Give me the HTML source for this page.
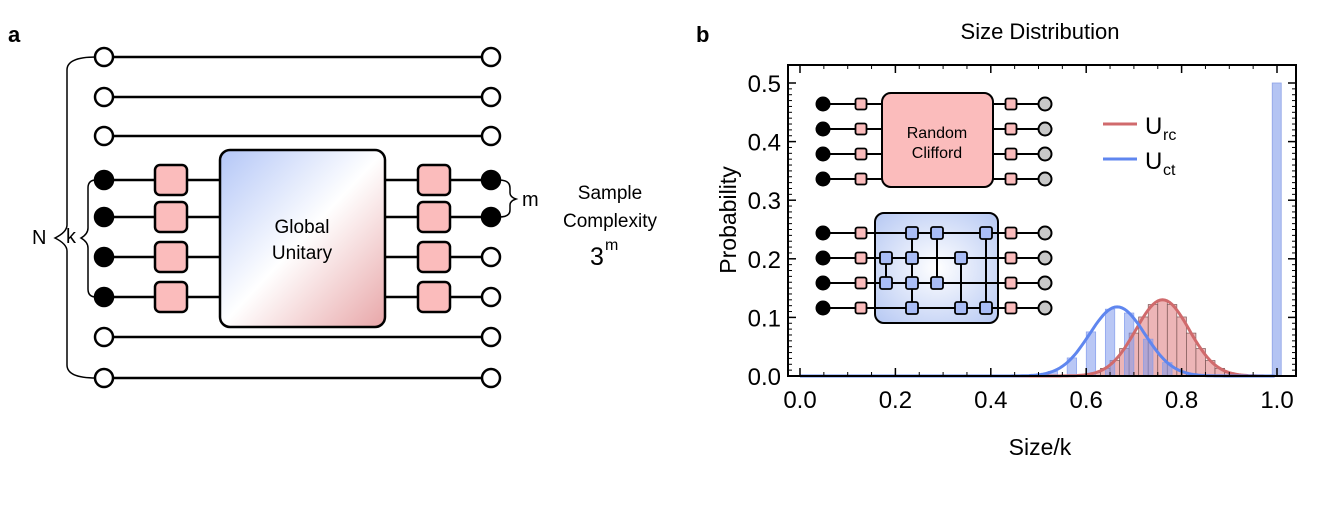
<!DOCTYPE html>
<html><head><meta charset="utf-8"><style>
html,body{margin:0;padding:0;background:#fff}
svg{display:block;font-family:"Liberation Sans",sans-serif}
</style></head><body>
<svg id="s" width="1329" height="505" viewBox="0 0 1329 505" xmlns="http://www.w3.org/2000/svg">
<defs>
<linearGradient id="gu" x1="0" y1="0" x2="1" y2="1">
<stop offset="0" stop-color="#b3c6f7"/><stop offset="0.5" stop-color="#ffffff"/><stop offset="1" stop-color="#e8a6a8"/>
</linearGradient>
<radialGradient id="gb" cx="0.5" cy="0.5" r="0.7">
<stop offset="0" stop-color="#ffffff"/><stop offset="1" stop-color="#b6c8f3"/>
</radialGradient>
</defs>
<text x="8" y="42" font-size="22" font-weight="bold">a</text>
<text x="696" y="42" font-size="22" font-weight="bold">b</text>
<g id="pa" stroke="#000" stroke-width="2.5"></g>
<g font-size="19" fill="#000">
<text x="32" y="244" font-size="20">N</text>
<text x="66" y="243" font-size="20">k</text>
<text x="522" y="206" font-size="20">m</text>
<text x="610" y="199" text-anchor="middle">Sample</text>
<text x="610" y="227" text-anchor="middle">Complexity</text>
<text x="597" y="265" font-size="25" text-anchor="middle">3</text>
<text x="605" y="250" font-size="16">m</text>
<text x="302" y="233" text-anchor="middle">Global</text>
<text x="302" y="259" text-anchor="middle">Unitary</text>
</g>
<text x="1040" y="39" font-size="22" text-anchor="middle">Size Distribution</text>
<text x="1040" y="455" font-size="23" text-anchor="middle">Size/k</text>
<text transform="translate(736,220) rotate(-90)" font-size="23" text-anchor="middle">Probability</text>
<g id="pb"></g>
</svg>
<script>
const NS="http://www.w3.org/2000/svg";
function el(p,t,a,txt){const e=document.createElementNS(NS,t);for(const k in a)e.setAttribute(k,a[k]);if(txt!==undefined)e.textContent=txt;p.appendChild(e);return e;}
const pa=document.getElementById('pa');
const rows=[57,97,136,180,217,257,297,337,378];
rows.forEach((y,i)=>{
 if(i>=3&&i<=6){el(pa,'line',{x1:104,y1:y,x2:220,y2:y});el(pa,'line',{x1:385,y1:y,x2:491,y2:y});}
 else el(pa,'line',{x1:104,y1:y,x2:491,y2:y});
});
el(pa,'path',{d:"M96 57 Q67 57 67 70 L67 225 Q67 232 55 238 Q67 244 67 251 L67 365 Q67 378 96 378",fill:"none","stroke-width":1.5});
el(pa,'path',{d:"M96 180 Q88 180 88 188 L88 228 Q88 234 81 238 Q88 242 88 248 L88 289 Q88 297 96 297",fill:"none","stroke-width":1.5});
el(pa,'path',{d:"M499 180 Q510 180 510 188 L510 193 Q510 197 516 199 Q510 201 510 205 L510 210 Q510 217 499 217",fill:"none","stroke-width":1.5});
el(pa,'rect',{x:220,y:150,width:165,height:177,rx:10,fill:"url(#gu)"});
rows.forEach((y,i)=>{
 const g=i>=3&&i<=6;
 el(pa,'circle',{cx:104,cy:y,r:9,fill:g?"#000":"#fff"});
 el(pa,'circle',{cx:491,cy:y,r:9,fill:(i==3||i==4)?"#000":"#fff"});
 if(g){el(pa,'rect',{x:155,y:y-15,width:32,height:30,rx:5,fill:"#fbbcbc"});el(pa,'rect',{x:418,y:y-15,width:32,height:30,rx:5,fill:"#fbbcbc"});}
});
const pb=document.getElementById('pb');
const X=v=>800+v*477, Y=v=>376-v*586;
function gau(x,m,h,s){return h*Math.exp(-(x-m)*(x-m)/(2*s*s));}
for(let c=0.56;c<0.95;c+=0.02){const h=gau(c,0.76,0.13,0.056);if(h<0.002)continue;el(pb,'rect',{x:X(c-0.01),y:Y(h),width:477*0.02,height:376-Y(h),fill:"#e9a3a5","fill-opacity":0.8,stroke:"#7a5555","stroke-width":0.7});}
for(let c=0.53;c<0.80;c+=0.04){const h=gau(c,0.665,0.118,0.058);if(h<0.002)continue;el(pb,'rect',{x:X(c-0.01),y:Y(h),width:477*0.02,height:376-Y(h),fill:"#7f99ec","fill-opacity":0.55,stroke:"#7f99ec","stroke-width":0.6});}
el(pb,'rect',{x:X(0.99),y:Y(0.5),width:9,height:376-Y(0.5),fill:"#b4c4f3",stroke:"#8ea3e6","stroke-width":0.8});
let dr="",db="";
for(let x=0;x<=1.0;x+=0.005){dr+=(x?"L":"M")+X(x).toFixed(1)+" "+Y(gau(x,0.76,0.13,0.056)).toFixed(1);db+=(x?"L":"M")+X(x).toFixed(1)+" "+Y(gau(x,0.665,0.118,0.058)).toFixed(1);}
el(pb,'path',{d:dr,fill:"none",stroke:"#d06a6c","stroke-width":3});
el(pb,'path',{d:db,fill:"none",stroke:"#5f86ef","stroke-width":3});
el(pb,'rect',{x:788,y:65,width:508,height:311,fill:"none",stroke:"#000","stroke-width":2});
for(let i=0;i<=5;i++){const v=i/10;el(pb,'text',{x:781,y:Y(v)+9,"font-size":24,"text-anchor":"end"},v.toFixed(1));el(pb,'line',{x1:788,y1:Y(v),x2:796,y2:Y(v),stroke:"#000","stroke-width":1.5});el(pb,'line',{x1:1296,y1:Y(v),x2:1288,y2:Y(v),stroke:"#000","stroke-width":1.5});}
for(let i=0;i<50;i++){const v=i/100;el(pb,'line',{x1:788,y1:Y(v),x2:792,y2:Y(v),stroke:"#000","stroke-width":1});el(pb,'line',{x1:1296,y1:Y(v),x2:1292,y2:Y(v),stroke:"#000","stroke-width":1});}
for(let i=0;i<=5;i++){const v=i/5;el(pb,'text',{x:X(v),y:408,"font-size":24,"text-anchor":"middle"},v.toFixed(1));el(pb,'line',{x1:X(v),y1:376,x2:X(v),y2:368,stroke:"#000","stroke-width":1.5});el(pb,'line',{x1:X(v),y1:65,x2:X(v),y2:73,stroke:"#000","stroke-width":1.5});}
for(let i=0;i<=20;i++){const v=i/20;el(pb,'line',{x1:X(v),y1:376,x2:X(v),y2:372,stroke:"#000","stroke-width":1});el(pb,'line',{x1:X(v),y1:65,x2:X(v),y2:69,stroke:"#000","stroke-width":1});}
el(pb,'line',{x1:1103,y1:124,x2:1137,y2:124,stroke:"#d06a6c","stroke-width":3});
el(pb,'line',{x1:1103,y1:159,x2:1137,y2:159,stroke:"#5f86ef","stroke-width":3});
el(pb,'text',{x:1145,y:134,"font-size":24},"U");el(pb,'text',{x:1163,y:140,"font-size":16},"rc");
el(pb,'text',{x:1145,y:169,"font-size":24},"U");el(pb,'text',{x:1163,y:175,"font-size":16},"ct");
const g=el(pb,'g',{stroke:"#000","stroke-width":2});
function sq(x,y,f,s){el(g,'rect',{x:x-s/2,y:y-s/2,width:s,height:s,rx:2,fill:f,"stroke-width":1.8});}
const r1=[104,129,154,179];
r1.forEach(y=>{el(g,'line',{x1:823,y1:y,x2:1045,y2:y});});
el(g,'rect',{x:882,y:93,width:111,height:94,rx:9,fill:"#fbbcbc"});
r1.forEach(y=>{el(g,'circle',{cx:823,cy:y,r:6.5,fill:"#000"});sq(861,y,"#fbbcbc",11);sq(1011,y,"#fbbcbc",11);el(g,'circle',{cx:1045,cy:y,r:6.5,fill:"#c8c8c8"});});
el(pb,'text',{x:937,y:138,"font-size":16,"text-anchor":"middle"},"Random");
el(pb,'text',{x:937,y:158,"font-size":16,"text-anchor":"middle"},"Clifford");
const r2=[233,258,283,308];
r2.forEach(y=>{el(g,'line',{x1:823,y1:y,x2:1045,y2:y});});
el(g,'rect',{x:875,y:213,width:123,height:110,rx:9,fill:"url(#gb)"});
r2.forEach(y=>{el(g,'line',{x1:875,y1:y,x2:998,y2:y});});
[[886,1,2],[912,0,3],[937,0,2],[961,1,3],[986,0,3]].forEach(([x,a,b])=>el(g,'line',{x1:x,y1:r2[a],x2:x,y2:r2[b]}));
[[912,0],[937,0],[986,0],[886,1],[912,1],[961,1],[886,2],[912,2],[937,2],[912,3],[961,3],[986,3]].forEach(([x,r])=>sq(x,r2[r],"#a9bdf6",12));
r2.forEach(y=>{el(g,'circle',{cx:823,cy:y,r:6.5,fill:"#000"});sq(861,y,"#fbbcbc",11);sq(1011,y,"#fbbcbc",11);el(g,'circle',{cx:1045,cy:y,r:6.5,fill:"#c8c8c8"});});
</script>
</body></html>
